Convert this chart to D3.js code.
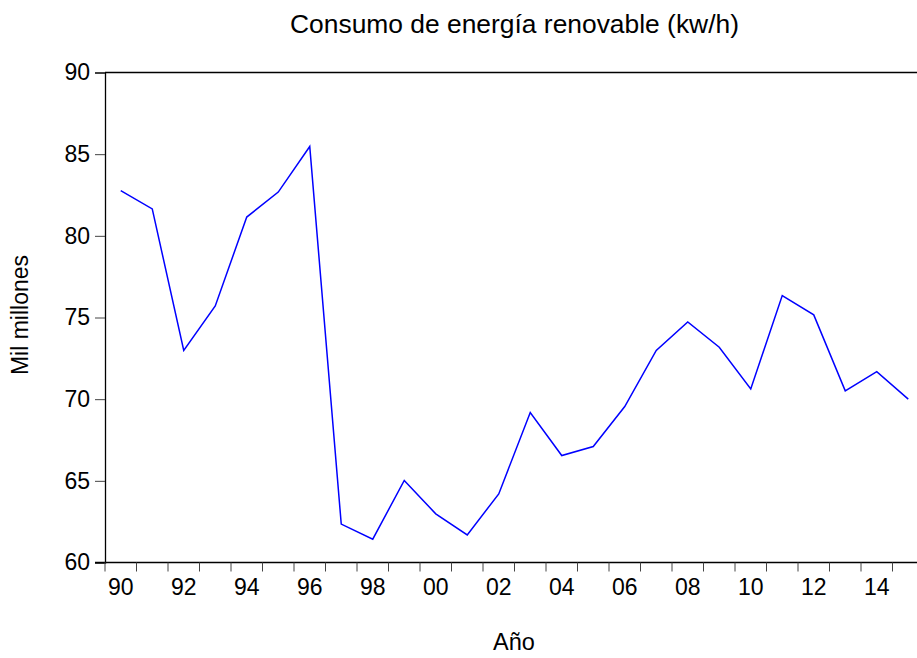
<!DOCTYPE html>
<html><head><meta charset="utf-8">
<script src="https://cdn.jsdelivr.net/npm/d3@7"></script>
<style>
html,body{margin:0;padding:0;background:#fff;}
svg{display:block;font-family:"Liberation Sans",Arial,sans-serif;}
</style></head>
<body>
<svg id="chart" width="917" height="658"></svg>
<script>
const years = [1990,1991,1992,1993,1994,1995,1996,1997,1998,1999,2000,2001,2002,2003,2004,2005,2006,2007,2008,2009,2010,2011,2012,2013,2014,2015];
const consumo = [82.77,81.65,72.98,75.71,81.15,82.68,85.47,62.35,61.43,65.02,62.98,61.69,64.2,69.18,66.55,67.1,69.55,72.98,74.73,73.18,70.63,76.34,75.16,70.51,71.69,70.0];
const yTicks = [60,65,70,75,80,85,90];
const xLabelYears = [1990,1992,1994,1996,1998,2000,2002,2004,2006,2008,2010,2012,2014];
const title = "Consumo de energía renovable (kw/h)";
const xTitle = "Año";
const yTitle = "Mil millones";

(function(){
const svg = d3.select("#chart");
const mLeft = 105, mTop = 72.5, mBottom = 562.5;
const step = 31.5;
const mRight = mLeft + step * years.length;

const x = d3.scaleBand().domain(years).range([mLeft, mRight]).paddingInner(0).paddingOuter(0);
const xc = d => x(d) + x.bandwidth() / 2;
const y = d3.scaleLinear().domain([60, 90]).range([mBottom, mTop]);

// top border
svg.append("line").attr("x1", mLeft).attr("x2", 917).attr("y1", mTop).attr("y2", mTop)
  .attr("stroke", "#000").attr("stroke-width", 1.3);

// Y axis
const yAxis = svg.append("g").attr("transform", `translate(${mLeft},0)`)
  .call(d3.axisLeft(y).tickValues(yTicks).tickSize(10).tickPadding(5).tickFormat(d3.format("d")));
yAxis.select(".domain").attr("stroke", "#000").attr("stroke-width", 1.3);
yAxis.selectAll(".tick line").attr("stroke", "#444");
yAxis.selectAll(".tick text").attr("font-size", 23).attr("fill", "#000")
  .attr("font-family", "Liberation Sans, Arial, sans-serif");

// X axis: ticks at band boundaries
const boundaries = years.map(d => x(d));
const xg = svg.append("g");
xg.append("line").attr("x1", mLeft - 10).attr("x2", 917).attr("y1", mBottom).attr("y2", mBottom)
  .attr("stroke", "#000").attr("stroke-width", 1.3);
xg.selectAll("line.tk").data(boundaries).join("line").attr("class", "tk")
  .attr("x1", d => d).attr("x2", d => d).attr("y1", mBottom).attr("y2", mBottom + 9)
  .attr("stroke", "#444");
xg.selectAll("text").data(xLabelYears).join("text")
  .attr("x", d => xc(d)).attr("y", 594.5)
  .attr("text-anchor", "middle").attr("font-size", 23).attr("fill", "#000")
  .text(d => String(d).slice(2));

// line
svg.append("clipPath").attr("id", "clip").append("rect")
  .attr("x", mLeft).attr("y", 0).attr("width", 917 - mLeft).attr("height", 658);
svg.append("path").datum(years.map((d, i) => [d, consumo[i]]))
  .attr("clip-path", "url(#clip)")
  .attr("fill", "none").attr("stroke", "#0000ff").attr("stroke-width", 1.5)
  .attr("d", d3.line().x(d => xc(d[0])).y(d => y(d[1])));

// titles
svg.append("text").attr("x", (mLeft + mRight) / 2).attr("y", 33)
  .attr("text-anchor", "middle").attr("font-size", 26.4).attr("fill", "#000").text(title);
svg.append("text").attr("x", 514).attr("y", 650)
  .attr("text-anchor", "middle").attr("font-size", 23.5).attr("fill", "#000").text(xTitle);
svg.append("text").attr("transform", "translate(28,315) rotate(-90)")
  .attr("text-anchor", "middle").attr("font-size", 23).attr("fill", "#000").text(yTitle);
})();
</script>
</body></html>
